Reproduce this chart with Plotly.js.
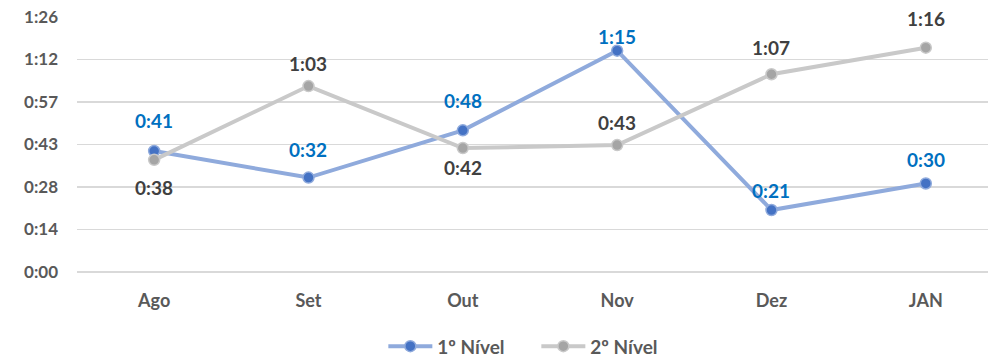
<!DOCTYPE html>
<html>
<head>
<meta charset="utf-8">
<script src="https://cdn.plot.ly/plotly-3.0.1.min.js"></script>
<style>html,body{margin:0;padding:0;background:#fff;}#chart{width:988px;height:357px;}</style>
</head>
<body>
<div id="chart"></div>
<script>
// Data (values in minutes)
const categories = ['Ago', 'Set', 'Out', 'Nov', 'Dez', 'JAN'];
const nivel1 = [41, 32, 48, 75, 21, 30];
const nivel2 = [38, 63, 42, 43, 67, 76];
const yTickVals = [0, 14.4, 28.8, 43.2, 57.6, 72, 86.4];
const yTickText = ['0:00', '0:14', '0:28', '0:43', '0:57', '1:12', '1:26'];
// label placement style (+1 above, -1 below)
const side1 = [1, 1, 1, 1, 1, 1];
const side2 = [-1, 1, -1, 1, 1, 1];
const shift1 = [30, 28, 30, 14, 20, 24];
const shift2 = [28, 23, 19, 23, 27, 29];

function fmt(m) {
  const h = Math.floor(m / 60), mm = Math.round(m % 60);
  return h + ':' + String(mm).padStart(2, '0');
}

const FONT = 'Lato, "Open Sans", sans-serif';

const traces = [
  {
    x: categories, y: nivel1, name: '1º Nível', type: 'scatter', mode: 'lines+markers',
    line: {color: '#8FAADC', width: 4},
    marker: {color: '#4472C4', size: 11, line: {color: '#8FAADC', width: 1.5}}
  },
  {
    x: categories, y: nivel2, name: '2º Nível', type: 'scatter', mode: 'lines+markers',
    line: {color: '#C9C9C9', width: 4},
    marker: {color: '#A5A5A5', size: 11, line: {color: '#C9C9C9', width: 1.5}}
  }
];

const annotations = [];
categories.forEach((c, i) => {
  annotations.push({x: c, y: nivel1[i], text: fmt(nivel1[i]), showarrow: false,
    yshift: side1[i] * shift1[i], yanchor: 'middle',
    font: {family: FONT, size: 19, color: '#0070C0', weight: 'bold'}});
  annotations.push({x: c, y: nivel2[i], text: fmt(nivel2[i]), showarrow: false,
    yshift: side2[i] * shift2[i], yanchor: 'middle',
    font: {family: FONT, size: 19, color: '#404040', weight: 'bold'}});
});

const layout = {
  width: 988, height: 357,
  margin: {l: 77, r: 0, t: 17, b: 85},
  paper_bgcolor: '#ffffff', plot_bgcolor: '#ffffff',
  font: {family: FONT, size: 16, color: '#595959', weight: 'bold'},
  showlegend: true,
  legend: {orientation: 'h', xref: 'container', yref: 'container',
    x: 0.388, xanchor: 'left', y: 0.03, yanchor: 'middle',
    itemwidth: 44, entrywidth: 94, entrywidthmode: 'pixels',
    font: {family: FONT, size: 19, color: '#595959', weight: 'bold'}},
  xaxis: {
    type: 'category', range: [-0.5, 5.403],
    showgrid: false, zeroline: false, showline: false,
    ticks: 'outside', ticklen: 12, tickcolor: 'rgba(0,0,0,0)',
    tickfont: {family: FONT, size: 18, color: '#595959', weight: 'bold'}
  },
  yaxis: {
    range: [0, 86.4], tickvals: yTickVals, ticktext: yTickText,
    showgrid: true, gridcolor: '#D9D9D9', gridwidth: 1.5,
    zeroline: true, zerolinecolor: '#D9D9D9', zerolinewidth: 1.5,
    showline: false, ticklabelstandoff: 18,
    tickfont: {family: FONT, size: 17, color: '#595959', weight: 'bold'}
  },
  annotations: annotations
};

Plotly.newPlot('chart', traces, layout, {staticPlot: true, displayModeBar: false});
</script>
</body>
</html>
